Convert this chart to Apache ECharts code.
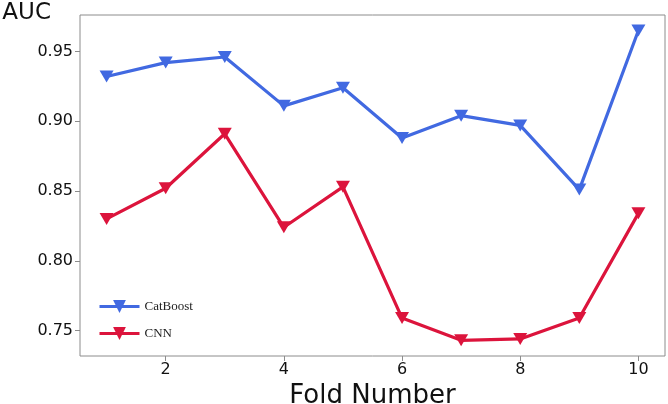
<!DOCTYPE html>
<html>
<head>
<meta charset="utf-8">
<script src="https://cdn.jsdelivr.net/npm/echarts@6/dist/echarts.min.js"></script>
<style>
html,body{margin:0;padding:0;background:#fff;}
#chart{width:668px;height:404px;}
</style>
</head>
<body>
<div id="chart"></div>
<script>
var folds = [1, 2, 3, 4, 5, 6, 7, 8, 9, 10];
var catboost = [0.932, 0.942, 0.946, 0.911, 0.924, 0.888, 0.904, 0.897, 0.851, 0.965];
var cnn = [0.830, 0.852, 0.891, 0.824, 0.853, 0.759, 0.743, 0.744, 0.759, 0.834];
var xTicks = [2, 4, 6, 8, 10];
var yTicks = [0.75, 0.80, 0.85, 0.90, 0.95];

function pairs(xs, ys) { return xs.map(function (x, i) { return [x, ys[i]]; }); }

var chart = echarts.init(document.getElementById('chart'), null, { renderer: 'canvas' });
var tickFont = 'DejaVu Sans';
chart.setOption({
  animation: false,
  backgroundColor: '#fff',
  grid: { left: 80, top: 15, right: 3, bottom: 48, containLabel: false, outerBoundsMode: 'none',
    show: true, borderColor: '#8c8c8c', borderWidth: 1 },
  legend: {
    orient: 'vertical', left: 93, top: 295, itemWidth: 40, itemHeight: 16, itemGap: 14,
    lineStyle: { width: 3 },
    textStyle: { fontFamily: 'Liberation Serif', fontSize: 13, color: '#222' },
    data: ['CatBoost', 'CNN']
  },
  xAxis: {
    type: 'value', min: 0.55, max: 10.45,
    name: 'Fold Number', nameLocation: 'middle', nameGap: 23,
    nameTextStyle: { fontFamily: tickFont, fontSize: 26, color: '#111' },
    axisLine: { show: false },
    splitLine: { show: false },
    axisTick: { show: true, length: 5, customValues: xTicks, lineStyle: { color: '#8c8c8c' } },
    axisLabel: { customValues: xTicks, fontFamily: tickFont, fontSize: 16, color: '#111', margin: 6 }
  },
  yAxis: {
    type: 'value', min: 0.7318, max: 0.9761,
    name: 'AUC', nameLocation: 'end', nameGap: 2,
    nameTextStyle: { fontFamily: tickFont, fontSize: 23, color: '#111', align: 'right', verticalAlign: 'middle', padding: [0, 29, 0, 0] },
    axisLine: { show: false },
    splitLine: { show: false },
    axisTick: { show: true, length: 5, customValues: yTicks, lineStyle: { color: '#8c8c8c' } },
    axisLabel: { customValues: yTicks, fontFamily: tickFont, fontSize: 16, color: '#111', margin: 7,
      formatter: function (v) { return v.toFixed(2); } }
  },
  series: [
    { name: 'CatBoost', type: 'line', data: pairs(folds, catboost),
      symbol: 'triangle', symbolRotate: 180, symbolSize: [14, 12],
      lineStyle: { color: '#4169E1', width: 3.2 }, itemStyle: { color: '#4169E1' } },
    { name: 'CNN', type: 'line', data: pairs(folds, cnn),
      symbol: 'triangle', symbolRotate: 180, symbolSize: [14, 12],
      lineStyle: { color: '#DC143C', width: 3.2 }, itemStyle: { color: '#DC143C' } }
  ]
});
</script>
</body>
</html>
